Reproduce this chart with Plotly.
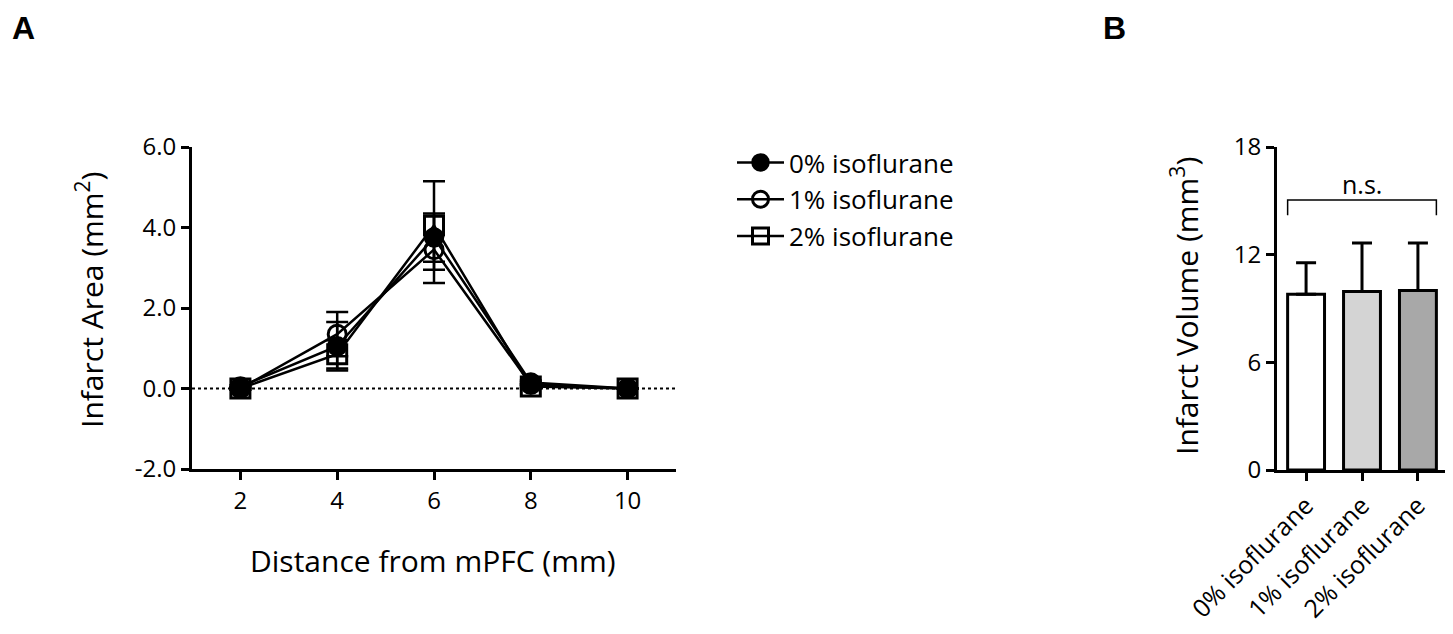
import plotly.graph_objects as go

# ---------------- data ----------------
distance = [2, 4, 6, 8, 10]
area_0 = [0.05, 1.05, 3.75, 0.15, 0.0]
err_0 = [0.03, 0.60, 0.60, 0.05, 0.0]
area_1 = [0.0, 1.35, 3.45, 0.10, 0.0]
err_1 = [0.03, 0.55, 0.83, 0.05, 0.0]
area_2 = [0.0, 0.85, 4.05, 0.05, 0.0]
err_2 = [0.03, 0.35, 1.1, 0.05, 0.0]
series_names = ["0% isoflurane", "1% isoflurane", "2% isoflurane"]

groups = ["0% isoflurane", "1% isoflurane", "2% isoflurane"]
volume = [9.8, 9.95, 10.0]
volume_err = [1.75, 2.7, 2.65]
bar_colors = ["#ffffff", "#d4d4d4", "#a8a8a8"]

xticks_a = [2, 4, 6, 8, 10]
yticks_a = [-2, 0, 2, 4, 6]
yticks_b = [0, 6, 12, 18]

FONT = "Open Sans"
W, H = 1453, 634
OFF = 8  # page offset of the figure


def px(x):
    return (x - OFF) / W


def py(y):
    return 1 - (y - OFF) / H


fig = go.Figure()

markers = [
    dict(symbol="circle", color="black", size=18, line=dict(color="black", width=2.5)),
    dict(symbol="circle-open", color="black", size=18, line=dict(color="black", width=3)),
    dict(symbol="square-open", color="black", size=19, line=dict(color="black", width=3)),
]
for name, y, e, m in zip(series_names, [area_0, area_1, area_2], [err_0, err_1, err_2], markers):
    fig.add_trace(go.Scatter(
        x=distance, y=y, name=name, mode="lines+markers",
        line=dict(color="black", width=2.5),
        marker=m,
        error_y=dict(type="data", array=e, visible=True, color="black", thickness=2.5, width=11),
        xaxis="x", yaxis="y",
    ))

bar_width = 0.66
fig.add_trace(go.Bar(
    x=groups, y=volume, width=bar_width,
    marker=dict(color=bar_colors, line=dict(color="black", width=3)),
    error_y=dict(type="data", symmetric=False, array=volume_err, arrayminus=[0, 0, 0],
                 visible=True, color="black", thickness=3, width=10),
    xaxis="x2", yaxis="y2", showlegend=False,
))

axis_common = dict(showline=True, linecolor="black", linewidth=3, ticks="outside",
                   ticklen=8, tickwidth=3, tickcolor="black", showgrid=False, zeroline=False,
                   automargin=False,
                   tickfont=dict(family=FONT, size=24, color="black"))

fig.update_layout(
    width=W, height=H,
    margin=dict(l=0, r=0, t=0, b=0, pad=0, autoexpand=False),
    paper_bgcolor="white", plot_bgcolor="white",
    xaxis=dict(domain=[px(192), px(676)], range=[1, 11], tickvals=xticks_a,
               anchor="y", **axis_common),
    yaxis=dict(domain=[py(469), py(147)], range=[-2, 6], tickvals=yticks_a,
               ticktext=[f"{v:.1f}" for v in yticks_a], anchor="x", **axis_common),
    xaxis2=dict(domain=[px(1277), px(1447)], range=[-0.52, 2.52], anchor="y2",
                tickangle=-45, **axis_common),
    yaxis2=dict(domain=[py(470), py(147)], range=[0, 18], tickvals=yticks_b,
                anchor="x2", **axis_common),
    legend=dict(x=px(732), y=py(139), xanchor="left", yanchor="top", itemwidth=47,
                font=dict(family=FONT, size=26, color="black"), bgcolor="rgba(0,0,0,0)"),
    showlegend=True,
)
fig.update_xaxes(selector=dict(anchor="y2"), tickfont=dict(family=FONT, size=25, color="black"))

# dotted zero line in panel A
fig.add_shape(type="line", xref="x domain", yref="y", x0=0, x1=1, y0=0, y1=0,
              line=dict(color="black", width=2, dash="dot"))

# significance bracket in panel B
top = max(v + e for v, e in zip(volume, volume_err))
br_y = top + 2.4
br_low = br_y - 0.85
left_edge = 0 - bar_width / 2
right_edge = len(groups) - 1 + bar_width / 2
fig.add_shape(type="path", xref="x2", yref="y2",
              path=f"M {left_edge},{br_low} L {left_edge},{br_y} L {right_edge},{br_y} L {right_edge},{br_low}",
              line=dict(color="black", width=1.5))
fig.add_annotation(xref="x2", yref="y2", x=1, y=br_y, text="n.s.", showarrow=False,
                   xanchor="center", yanchor="bottom", yshift=-3,
                   font=dict(family=FONT, size=25, color="black"))


def label(x, y, text, angle=0, size=30, family=FONT):
    fig.add_annotation(xref="paper", yref="paper", x=px(x), y=py(y), text=text,
                       textangle=angle, showarrow=False, xanchor="center", yanchor="middle",
                       font=dict(family=family, size=size, color="black"))


# axis titles
label(90, 300, "Infarct Area (mm<sup>2</sup>)", -90)
label(433, 560, "Distance from mPFC (mm)")
label(1185, 306, "Infarct Volume (mm<sup>3</sup>)", -90)

# panel letters
label(23, 28, "<b>A</b>", size=32, family="Liberation Sans")
label(1114, 28, "<b>B</b>", size=32, family="Liberation Sans")

fig.write_html("out.html")
